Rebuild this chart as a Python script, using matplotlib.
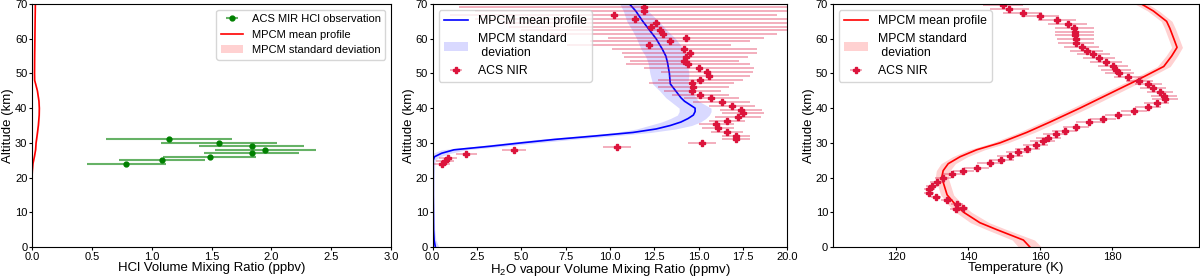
import numpy as np
import matplotlib
matplotlib.use("Agg")
import matplotlib.pyplot as plt

plt.rcParams['font.family'] = ['Liberation Sans', 'DejaVu Sans']
plt.rcParams['mathtext.fontset'] = 'custom'
plt.rcParams['mathtext.rm'] = 'Liberation Sans'
plt.rcParams['mathtext.it'] = 'Liberation Sans:italic'
plt.rcParams['font.size'] = 9.5
plt.rcParams['xtick.labelsize'] = 8
plt.rcParams['ytick.labelsize'] = 8
plt.rcParams['legend.fontsize'] = 8
plt.rcParams['xtick.major.pad'] = 0.8
plt.rcParams['ytick.major.pad'] = 0.8
plt.rcParams['xtick.major.size'] = 2.5
plt.rcParams['ytick.major.size'] = 2.5

# --- HCl panel ---
hcl_alt = [31, 30, 29, 28, 27, 26, 25, 24]
hcl_obs = [1.145, 1.56, 1.835, 1.95, 1.835, 1.486, 1.087, 0.788]
hcl_err = [0.53, 0.485, 0.44, 0.42, 0.40, 0.39, 0.36, 0.33]

hcl_model_alt = [0, 5, 10, 15, 20, 22, 24, 26, 28, 30, 32, 35, 38, 40, 42, 45, 47, 48, 50, 55, 60, 65, 70]
hcl_model = [0.0, 0.0, 0.0, 0.0, 0.0, 0.003, 0.008, 0.02, 0.03, 0.034, 0.042, 0.053, 0.06, 0.061, 0.058, 0.045, 0.03, 0.022, 0.021, 0.022, 0.024, 0.026, 0.028]
hcl_model_std = [0.0, 0.0, 0.0, 0.0, 0.001, 0.001, 0.002, 0.003, 0.004, 0.004, 0.005, 0.005, 0.005, 0.005, 0.005, 0.004, 0.003, 0.003, 0.003, 0.003, 0.003, 0.003, 0.003]

# --- H2O panel ---
h2o_model_alt = [0, 2, 5, 10, 15, 20, 25, 26, 27, 28, 29, 30, 31, 32, 33, 34, 35, 36, 37, 38, 39, 40,
                 41, 42, 43, 45, 47, 50, 53, 55, 57, 60, 62, 65, 68, 70]
h2o_model = [0.15, 0.08, 0.05, 0.04, 0.03, 0.03, 0.03, 0.1, 0.5, 1.2, 3.2, 5.0, 6.9, 9.2, 11.3, 12.6, 13.4,
             14.0, 14.4, 14.7, 14.8, 14.8, 14.5, 14.2, 14.0, 13.7, 13.4, 13.35, 13.25, 13.15, 12.95, 12.6,
             12.3, 11.85, 11.45, 11.1]
h2o_model_std = [0.2, 0.1, 0.06, 0.05, 0.05, 0.05, 0.1, 0.3, 0.5, 0.7, 0.8, 0.9, 1.0, 1.0, 1.0, 1.1, 1.2,
                 1.1, 1.0, 0.9, 0.9, 0.9, 0.85, 0.8, 0.85, 0.9, 1.0, 1.1, 1.1, 1.15, 1.2, 1.1, 1.0, 0.9,
                 0.7, 0.55]

h2o_obs_alt = [23.9, 24.7, 25.6, 26.7, 27.8, 28.8, 29.9, 31.0, 32.1, 33.1, 34.2, 35.4, 36.3, 37.5, 38.6,
               39.6, 40.7, 41.8, 42.8, 43.9, 45.0, 46.2, 47.2, 48.2, 49.4, 50.4, 51.5, 52.6, 53.7, 54.8,
               55.9, 57.0, 58.1, 59.2, 60.2, 61.3, 62.4, 63.5, 64.6, 65.7, 66.8, 67.9, 69.1]
h2o_obs = [0.5, 0.69, 0.88, 1.9, 4.6, 10.4, 15.2, 17.1, 17.1, 16.6, 16.1, 16.0, 16.6, 17.2, 17.5,
           17.4, 16.9, 16.3, 15.7, 15.1, 14.64, 14.7, 14.6, 15.1, 15.6, 15.45, 15.0, 14.4, 14.2, 14.3,
           14.5, 14.2, 12.2, 13.4, 14.3, 13.0, 12.8, 12.3, 12.6, 11.4, 10.2, 11.9, 11.9]
h2o_obs_err = [0.5, 0.5, 0.5, 0.6, 0.68, 0.8, 0.8, 0.8, 0.8, 0.9, 0.9, 1.0, 1.0, 1.3, 1.2,
               1.2, 1.3, 1.6, 1.55, 1.6, 1.6, 2.0, 2.4, 2.4, 2.3, 2.6, 3.1, 3.5, 3.1, 3.5,
               3.8, 4.1, 4.6, 4.5, 4.4, 6.4, 7.8, 8.0, 8.6, 9.0, 9.2, 9.5, 10.4]

# --- Temperature panel ---
t_model_alt = [0, 2, 5, 7, 10, 12, 15, 18, 20, 22, 24, 26, 28, 30, 33, 36, 40, 44, 48, 52, 55, 57.5,
               60, 63, 65, 68, 70]
t_model = [157.2, 155.4, 148.0, 143.3, 138.8, 136.7, 134.2, 133.3, 132.7, 133.1, 134.5, 137.8, 142.4,
           148.9, 156.3, 162.8, 171.1, 179.0, 186.9, 194.4, 196.6, 198.1, 197.2, 196.1, 195.2, 191.5, 188.2]
t_model_std = [3.2, 3.1, 2.8, 2.6, 2.2, 2.0, 1.8, 1.8, 1.8, 1.9, 2.0, 2.1, 2.2, 2.2, 2.2, 2.2, 2.2,
               2.1, 2.0, 1.8, 1.6, 1.5, 1.5, 1.5, 1.5, 1.6, 1.8]

t_obs_alt = [10.9, 11.3, 12.3, 13.4, 14.5, 15.5, 16.6, 17.6, 18.6, 19.8, 20.9, 21.9, 22.9, 24.1, 25.2,
             26.2, 27.3, 28.3, 29.4, 30.5, 31.5, 32.6, 33.5, 34.7, 36.0, 37.0, 38.1, 39.3, 40.3, 41.4,
             42.7, 43.6, 44.7, 45.8, 47.0, 47.9, 49.0, 50.1, 51.1, 52.2, 53.3, 54.5, 55.5, 56.6, 57.7,
             58.8, 59.9, 61.1, 62.0, 63.1, 64.3, 65.4, 66.6, 67.5, 68.6, 69.7]
t_obs = [136.7, 138.5, 136.9, 134.1, 131.1, 129.1, 129.3, 130.1, 131.5, 133.1, 135.5, 138.7, 142.4,
         146.1, 149.2, 151.7, 154.0, 156.5, 158.8, 160.8, 162.3, 164.4, 166.9, 170.0, 173.7, 177.6,
         181.8, 186.1, 190.1, 192.4, 194.7, 194.5, 193.3, 191.5, 190.1, 187.6, 184.5, 182.0, 181.1,
         180.4, 178.3, 176.5, 174.8, 173.0, 171.6, 169.9, 169.9, 169.7, 169.7, 169.5, 167.7, 164.7,
         160.0, 155.2, 151.5, 149.8]
t_obs_err = [1.6, 1.6, 1.6, 1.6, 1.5, 1.4, 1.5, 1.7, 2.0, 2.3, 2.8, 3.0, 3.5, 3.5, 3.5,
             3.5, 3.5, 3.5, 3.5, 3.5, 3.5, 3.5, 3.5, 3.5, 3.6, 3.6, 3.6, 3.6, 3.6, 3.6,
             3.6, 3.6, 3.6, 3.6, 3.8, 3.8, 4.0, 4.0, 4.2, 4.2, 4.4, 4.4, 4.6, 4.6, 4.8,
             5.0, 5.2, 5.4, 5.4, 5.4, 5.4, 5.2, 5.2, 5.4, 5.5, 5.5]

fig = plt.figure(figsize=(12, 2.78), dpi=100)
W, H = 1200.0, 278.0
ax1 = fig.add_axes([32 / W, 31 / H, 359 / W, 243 / H])
ax2 = fig.add_axes([432.7 / W, 31 / H, 354.6 / W, 243 / H])
ax3 = fig.add_axes([832.7 / W, 31 / H, 366.3 / W, 243 / H])

nir_color = '#dc143c'
nir_ecolor = '#dc143c66'

# panel 1: HCl
obs = ax1.errorbar(hcl_obs, hcl_alt, xerr=hcl_err, fmt='o', color='green', ms=3.5,
                   ecolor='#00800099', elinewidth=1.5, label='ACS MIR HCl observation')
line, = ax1.plot(hcl_model, hcl_model_alt, color='red', lw=1.2, label='MPCM mean profile')
lo = np.array(hcl_model) - np.array(hcl_model_std)
hi = np.array(hcl_model) + np.array(hcl_model_std)
band = ax1.fill_betweenx(hcl_model_alt, lo, hi, color='red', alpha=0.18, lw=0,
                         label='MPCM standard deviation')
ax1.set_xlim(0, 3)
ax1.set_xticks(np.arange(0, 3.01, 0.5))
ax1.xaxis.set_major_formatter(matplotlib.ticker.FormatStrFormatter('%.1f'))
ax1.set_xlabel('HCl Volume Mixing Ratio (ppbv)')
ax1.legend(handles=[obs, line, band], loc='upper right')

# panel 2: H2O
ax2.plot(h2o_model, h2o_model_alt, color='blue', lw=1.2, label='MPCM mean profile')
lo = np.array(h2o_model) - np.array(h2o_model_std)
hi = np.array(h2o_model) + np.array(h2o_model_std)
ax2.fill_betweenx(h2o_model_alt, np.clip(lo, 0, None), hi, color='blue', alpha=0.15, lw=0,
                  label='MPCM standard\n deviation')
ax2.errorbar(h2o_obs, h2o_obs_alt, xerr=h2o_obs_err, fmt='P', color=nir_color, ms=5,
             ecolor=nir_ecolor, elinewidth=1.2, label='ACS NIR')
ax2.set_xlim(0, 20)
ax2.set_xticks(np.arange(0, 20.01, 2.5))
ax2.xaxis.set_major_formatter(matplotlib.ticker.FormatStrFormatter('%.1f'))
ax2.set_xlabel('H$_2$O vapour Volume Mixing Ratio (ppmv)')
ax2.legend(loc='upper left', fontsize=8.8)

# panel 3: temperature
ax3.plot(t_model, t_model_alt, color='red', lw=1.2, label='MPCM mean profile')
lo = np.array(t_model) - np.array(t_model_std)
hi = np.array(t_model) + np.array(t_model_std)
ax3.fill_betweenx(t_model_alt, lo, hi, color='red', alpha=0.18, lw=0,
                  label='MPCM standard\n deviation')
ax3.errorbar(t_obs, t_obs_alt, xerr=t_obs_err, fmt='P', color=nir_color, ms=5,
             ecolor=nir_ecolor, elinewidth=1.2, label='ACS NIR')
ax3.set_xlim(102.4, 204.2)
ax3.set_xticks([120, 140, 160, 180])
ax3.set_xlabel('Temperature (K)')
ax3.legend(loc='upper left', fontsize=8.8)

for ax in (ax1, ax2, ax3):
    ax.set_ylim(0, 70)
    ax.set_yticks(np.arange(0, 71, 10))
    ax.set_ylabel('Altitude (km)', va='center')
    w_px = ax.get_position().width * W
    ax.yaxis.set_label_coords(-24.0 / w_px, 0.5)
    ax.xaxis.label.set_va('top')
    ax.xaxis.set_label_coords(0.5, -15.0 / 243)

fig.savefig('out.png', dpi=100)
